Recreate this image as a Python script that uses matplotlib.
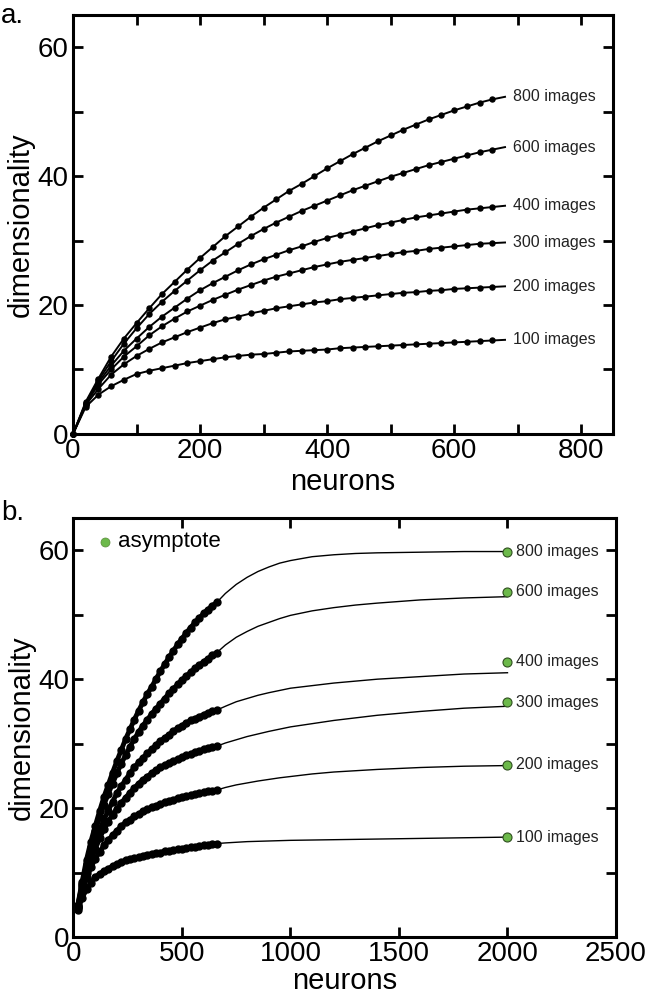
import matplotlib
matplotlib.use("Agg")
import matplotlib.pyplot as plt
from matplotlib.ticker import MultipleLocator

plt.rcParams["font.family"] = ["Liberation Sans", "DejaVu Sans"]

# === DATOS ===
neurons = [0, 20, 40, 60, 80, 100, 120, 140, 160, 180, 200, 220, 240, 260,
           280, 300, 320, 340, 360, 380, 400, 420, 440, 460, 480, 500, 520,
           540, 560, 580, 600, 620, 640, 660, 680]

dim_100 = [0, 4.2, 6.1, 7.4, 8.4, 9.3, 9.8, 10.2, 10.6, 11.0, 11.3, 11.6, 11.9,
           12.1, 12.3, 12.4, 12.6, 12.8, 12.9, 13.0, 13.1, 13.3, 13.4, 13.5,
           13.6, 13.7, 13.8, 13.9, 14.0, 14.1, 14.2, 14.3, 14.4, 14.5, 14.6]
dim_200 = [0, 4.5, 7.0, 9.2, 10.8, 12.1, 13.2, 14.2, 15.0, 15.8, 16.5, 17.2,
           17.8, 18.2, 18.7, 19.1, 19.5, 19.8, 20.1, 20.4, 20.6, 20.9, 21.1,
           21.3, 21.5, 21.7, 21.9, 22.0, 22.2, 22.3, 22.5, 22.6, 22.7, 22.8, 22.9]
dim_300 = [0, 4.6, 7.7, 10.0, 12.0, 13.6, 15.3, 16.7, 17.9, 19.0, 19.9, 20.8,
           21.6, 22.4, 23.1, 23.8, 24.4, 24.9, 25.4, 25.9, 26.3, 26.7, 27.0,
           27.3, 27.6, 27.9, 28.2, 28.4, 28.7, 28.9, 29.1, 29.3, 29.5, 29.6, 29.7]
dim_400 = [0, 4.7, 8.0, 10.6, 12.9, 14.8, 16.6, 18.2, 19.6, 21.0, 22.3, 23.4,
           24.4, 25.4, 26.3, 27.1, 27.8, 28.5, 29.1, 29.8, 30.4, 30.9, 31.4,
           31.9, 32.4, 32.8, 33.2, 33.6, 33.9, 34.2, 34.5, 34.8, 35.0, 35.2, 35.4]
dim_600 = [0, 4.8, 8.3, 11.3, 14.0, 16.4, 18.6, 20.5, 22.2, 23.8, 25.4, 26.9,
           28.2, 29.5, 30.7, 31.8, 32.8, 33.7, 34.6, 35.4, 36.2, 37.0, 37.8,
           38.5, 39.2, 39.9, 40.5, 41.1, 41.7, 42.2, 42.7, 43.2, 43.7, 44.1, 44.5]
dim_800 = [0, 5.0, 8.6, 12.0, 14.8, 17.2, 19.5, 21.7, 23.6, 25.5, 27.3, 29.0,
           30.7, 32.2, 33.7, 35.1, 36.4, 37.7, 38.8, 40.0, 41.2, 42.3, 43.4,
           44.4, 45.4, 46.3, 47.2, 48.0, 48.8, 49.5, 50.2, 50.8, 51.4, 51.9, 52.3]

# ajuste (panel b) desde 660 hasta 2000 neuronas
fit_neurons = [660, 700, 750, 800, 850, 900, 950, 1000, 1100, 1200, 1300,
               1400, 1600, 1800, 2000]
fit_100 = [14.5, 14.6, 14.7, 14.8, 14.85, 14.9, 14.95, 15.0, 15.05, 15.1,
           15.15, 15.2, 15.3, 15.4, 15.5]
fit_200 = [22.8, 23.2, 23.6, 23.9, 24.2, 24.45, 24.7, 24.9, 25.3, 25.6, 25.8,
           26.0, 26.3, 26.5, 26.6]
fit_300 = [29.6, 30.1, 30.6, 31.1, 31.5, 31.9, 32.25, 32.6, 33.1, 33.6, 34.0,
           34.4, 35.0, 35.5, 35.8]
fit_400 = [35.2, 35.8, 36.5, 37.0, 37.5, 37.9, 38.25, 38.6, 39.0, 39.4, 39.7,
           40.0, 40.4, 40.8, 41.0]
fit_600 = [44.1, 45.3, 46.5, 47.4, 48.2, 48.8, 49.4, 49.9, 50.6, 51.1, 51.5,
           51.8, 52.3, 52.6, 52.8]
fit_800 = [51.9, 53.3, 54.7, 55.8, 56.7, 57.4, 58.0, 58.4, 59.0, 59.3, 59.5,
           59.6, 59.7, 59.8, 59.8]

image_labels = ["100 images", "200 images", "300 images", "400 images",
                "600 images", "800 images"]
asymptotes = [15.5, 26.7, 36.4, 42.7, 53.6, 59.8]
asymptote_x = 2000

curves = [dim_100, dim_200, dim_300, dim_400, dim_600, dim_800]
fits = [fit_100, fit_200, fit_300, fit_400, fit_600, fit_800]

GREEN = "#6cb94a"
TICK_FS = 20
LABEL_FS = 21


def estilo_ejes(ax, xmax, xmajor, xminor, xpad):
    ax.set_xlim(0, xmax)
    ax.set_ylim(0, 65)
    ax.xaxis.set_major_locator(MultipleLocator(xmajor))
    if xminor:
        ax.xaxis.set_minor_locator(MultipleLocator(xminor))
    ax.yaxis.set_major_locator(MultipleLocator(20))
    ax.yaxis.set_minor_locator(MultipleLocator(10))
    ax.tick_params(which="both", direction="in", top=True, right=True,
                   width=2, length=7, labelsize=TICK_FS, pad=3)
    for s in ax.spines.values():
        s.set_linewidth(2.2)
    ax.set_xlabel("neurons", fontsize=LABEL_FS, labelpad=xpad)
    ax.set_ylabel("dimensionality", fontsize=LABEL_FS, labelpad=2)


fig = plt.figure(figsize=(6.48, 9.96), dpi=100)

# --- panel a ---
ax_a = fig.add_axes([0.1127, 0.5643, 0.8333, 0.4207])
for ys, lab in zip(curves, image_labels):
    ax_a.plot(neurons, ys, "-", color="black", lw=1.4, marker="o", ms=3.6,
              markevery=slice(0, len(neurons) - 1), clip_on=False, zorder=3)
    ax_a.text(neurons[-1] + 13, ys[-1], lab, fontsize=11.5, va="center",
              ha="left", color="#222222")
estilo_ejes(ax_a, 850, 200, 100, 3)
fig.text(0.002, 0.997, "a.", fontsize=20, ha="left", va="top")

# --- panel b ---
ax_b = fig.add_axes([0.1134, 0.0592, 0.8372, 0.4207])
for ys, fy, asy, lab in zip(curves, fits, asymptotes, image_labels):
    # cadena de puntos (datos)
    ax_b.plot(neurons[1:-1], ys[1:-1], "-", color="black", lw=3.5,
              marker="o", ms=5.0, zorder=3)
    ax_b.plot(fit_neurons, fy, "-", color="black", lw=1.0, zorder=2)
    ax_b.plot([asymptote_x], [asy], "o", color=GREEN, mec="#2f4f1f",
              mew=0.8, ms=6.5, zorder=4)
    ax_b.text(asymptote_x + 40, asy, lab, fontsize=11.5, va="center",
              ha="left", color="#222222")
ax_b.plot([145], [61.3], "o", color=GREEN, mec="#5a8a3a", mew=0.5, ms=6.5)
ax_b.text(205, 61.4, "asymptote", fontsize=16, va="center", ha="left")
estilo_ejes(ax_b, 2500, 500, None, 0)
fig.text(0.002, 0.498, "b.", fontsize=20, ha="left", va="top")

fig.savefig("out.png", dpi=100, facecolor="white")
